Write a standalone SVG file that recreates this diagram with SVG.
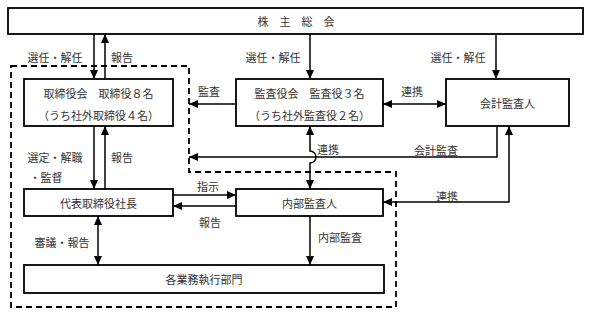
<svg xmlns="http://www.w3.org/2000/svg" width="590" height="315" viewBox="0 0 590 315">
<style>
.box{fill:#fff;stroke:#000;stroke-width:1.8}
.t{font-family:"Noto Sans CJK JP","Noto Sans CJK SC",sans-serif;font-size:11px;fill:#333;text-anchor:middle;dominant-baseline:central}
.c{fill:none;stroke:#000;stroke-width:1.5}
.dash{fill:none;stroke:#000;stroke-width:1.8;stroke-dasharray:6,4}
</style>
<defs>
<marker id="ah" markerUnits="userSpaceOnUse" markerWidth="9" markerHeight="8" refX="9" refY="4" orient="auto-start-reverse">
<path d="M0,0 L9,4 L0,8 z" fill="#000"/>
</marker>
</defs>
<rect width="590" height="315" fill="#fff"/>
<path class="dash" d="M11,66 H189 V172 H396 V307 H11 Z"/>
<g id="connectors">
<line class="c" x1="94" y1="34" x2="94" y2="79" marker-end="url(#ah)"/>
<line class="c" x1="105" y1="79" x2="105" y2="34" marker-end="url(#ah)"/>
<line class="c" x1="310" y1="34" x2="310" y2="79" marker-end="url(#ah)"/>
<line class="c" x1="496" y1="34" x2="496" y2="79" marker-end="url(#ah)"/>
<line class="c" x1="236" y1="104" x2="189" y2="104" marker-end="url(#ah)"/>
<line class="c" x1="383" y1="104" x2="446" y2="104" marker-start="url(#ah)" marker-end="url(#ah)"/>
<line class="c" x1="94" y1="126" x2="94" y2="189" marker-end="url(#ah)"/>
<line class="c" x1="105" y1="189" x2="105" y2="126" marker-end="url(#ah)"/>
<path class="c" d="M497,126 V157 H189" marker-end="url(#ah)"/>
<path class="c" d="M310,126 V151 A6,6 0 0 1 310,163 V189" marker-start="url(#ah)" marker-end="url(#ah)"/>
<path class="c" d="M383,202 H509 V126" marker-start="url(#ah)" marker-end="url(#ah)"/>
<line class="c" x1="173" y1="195" x2="236" y2="195" marker-end="url(#ah)"/>
<line class="c" x1="236" y1="206" x2="173" y2="206" marker-end="url(#ah)"/>
<line class="c" x1="98" y1="216" x2="98" y2="265" marker-start="url(#ah)" marker-end="url(#ah)"/>
<line class="c" x1="310" y1="216" x2="310" y2="265" marker-end="url(#ah)"/>
<text class="t" x="55" y="57">選任・解任</text>
<text class="t" x="122" y="57">報告</text>
<text class="t" x="273" y="57">選任・解任</text>
<text class="t" x="458" y="57">選任・解任</text>
<text class="t" x="209" y="91">監査</text>
<text class="t" x="412" y="91">連携</text>
<text class="t" x="55" y="157">選定・解職</text>
<text class="t" x="46" y="177">・監督</text>
<text class="t" x="122" y="157">報告</text>
<text class="t" x="328" y="149">連携</text>
<text class="t" x="436" y="150">会計監査</text>
<text class="t" x="208" y="186">指示</text>
<text class="t" x="210" y="222">報告</text>
<text class="t" x="447" y="196">連携</text>
<text class="t" x="62" y="242">審議・報告</text>
<text class="t" x="340" y="237">内部監査</text>
</g>
<g id="shareholders">
<rect class="box" x="8" y="8" width="575" height="26"/>
<text class="t" x="296" y="21">株　主　総　会</text>
</g>
<g id="board">
<rect class="box" x="24" y="79" width="149" height="47"/>
<text class="t" x="98.5" y="93">取締役会　取締役８名</text>
<text class="t" x="98.5" y="115">（うち社外取締役４名）</text>
</g>
<g id="audit-board">
<rect class="box" x="236" y="79" width="147" height="47"/>
<text class="t" x="309.5" y="93">監査役会　監査役３名</text>
<text class="t" x="309.5" y="115">（うち社外監査役２名）</text>
</g>
<g id="accounting-auditor">
<rect class="box" x="446" y="79" width="123" height="47"/>
<text class="t" x="507.5" y="103">会計監査人</text>
</g>
<g id="president">
<rect class="box" x="24" y="189" width="149" height="27"/>
<text class="t" x="98.5" y="203">代表取締役社長</text>
</g>
<g id="internal-auditor">
<rect class="box" x="236" y="189" width="147" height="27"/>
<text class="t" x="309.5" y="203">内部監査人</text>
</g>
<g id="departments">
<rect class="box" x="24" y="265" width="360" height="28"/>
<text class="t" x="204" y="279">各業務執行部門</text>
</g>
</svg>
